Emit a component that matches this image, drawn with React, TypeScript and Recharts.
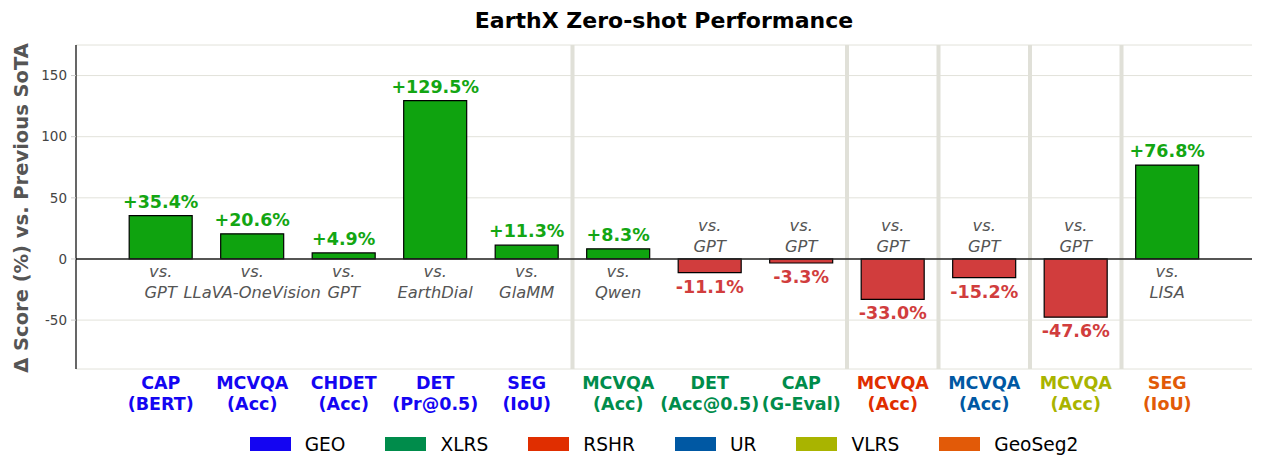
import { BarChart, Bar, XAxis, YAxis, CartesianGrid, ReferenceLine, LabelList, Legend, Cell } from "recharts";

// task / metric pairs shown under each bar
const tasks = ["CAP", "MCVQA", "CHDET", "DET", "SEG", "MCVQA", "DET", "CAP", "MCVQA", "MCVQA", "MCVQA", "SEG"];
const metrics = ["(BERT)", "(Acc)", "(Acc)", "(Pr@0.5)", "(IoU)", "(Acc)", "(Acc@0.5)", "(G-Eval)", "(Acc)", "(Acc)", "(Acc)", "(IoU)"];
const benchmarks = ["GEO", "GEO", "GEO", "GEO", "GEO", "XLRS", "XLRS", "XLRS", "RSHR", "UR", "VLRS", "GeoSeg2"];
// relative change against the previous best model (%)
const deltas = [35.4, 20.6, 4.9, 129.5, 11.3, 8.3, -11.1, -3.3, -33.0, -15.2, -47.6, 76.8];
const baselines = ["GPT", "LLaVA-OneVision", "GPT", "EarthDial", "GlaMM", "Qwen", "GPT", "GPT", "GPT", "GPT", "GPT", "LISA"];
const yTicks = [-50, 0, 50, 100, 150];

const groups = ["GEO", "XLRS", "RSHR", "UR", "VLRS", "GeoSeg2"];
const groupColors = ["#1405f2", "#008c4b", "#e02e00", "#0058a3", "#a9b400", "#e25a08"];

const GREEN = "#0fa30f";
const RED = "#d13d3d";
const FONT = "'DejaVu Sans', sans-serif";

const ids = tasks.map((t, i) => `${t}-${i}`);
const rows = ids.map((id, i) => ({ id, delta: deltas[i], baseline: baselines[i] }));

// a separator goes after every bar whose benchmark differs from the next one
const separators = ids.filter((_, i) => i < ids.length - 1 && benchmarks[i] !== benchmarks[i + 1]);

const colorOf = (bench: string) => groupColors[groups.indexOf(bench)];

function TaskTick(props: any) {
  const { x, y, payload } = props;
  const i = ids.indexOf(payload.value);
  const color = colorOf(benchmarks[i]);
  return (
    <g>
      <text x={x} y={y + 14} textAnchor="middle" dominantBaseline="central" fontWeight="bold" fontSize={17.5} fill={color}>
        {tasks[i]}
      </text>
      <text x={x} y={y + 35} textAnchor="middle" dominantBaseline="central" fontWeight="bold" fontSize={17.5} fill={color}>
        {metrics[i]}
      </text>
    </g>
  );
}

function ValueLabel(props: any) {
  const { x, y, width, height, value } = props;
  const top = Math.min(y, y + height);
  const bottom = Math.max(y, y + height);
  const cx = x + width / 2;
  const pos = value >= 0;
  return (
    <text
      x={cx}
      y={pos ? top - 14 : bottom + 14}
      textAnchor="middle"
      dominantBaseline="central"
      fontWeight="bold"
      fontSize={17.5}
      fill={pos ? "#13a613" : RED}
    >
      {`${pos ? "+" : ""}${value.toFixed(1)}%`}
    </text>
  );
}

function VersusLabel(props: any) {
  const { x, y, width, height, index } = props;
  const pos = deltas[index] >= 0;
  // the zero line is the bar's base
  const zero = pos ? Math.max(y, y + height) : Math.min(y, y + height);
  const first = pos ? zero + 13 : zero - 33;
  const cx = x + width / 2;
  return (
    <g fontStyle="italic" fontSize={16.3} fill="#555">
      <text x={cx} y={first} textAnchor="middle" dominantBaseline="central">vs.</text>
      <text x={cx} y={first + 21} textAnchor="middle" dominantBaseline="central">{baselines[index]}</text>
    </g>
  );
}

function GroupLegend() {
  return (
    <div style={{ height: 43, display: "flex", justifyContent: "center", alignItems: "flex-start", paddingTop: 4, boxSizing: "border-box" }}>
      {groups.map((g, i) => (
        <div key={g} style={{ display: "flex", alignItems: "center", marginRight: i < groups.length - 1 ? 40 : 0, height: 22 }}>
          <span style={{ display: "inline-block", width: 41, height: 14, background: groupColors[i], marginRight: 14 }} />
          <span style={{ fontSize: 18.6, color: "#000", fontFamily: FONT }}>{g}</span>
        </div>
      ))}
    </div>
  );
}

export default function App() {
  return (
    <div style={{ position: "absolute", left: 0, top: 0, width: 1262, height: 472, background: "#fff", fontFamily: FONT }}>
      <BarChart width={1262} height={472} data={rows} margin={{ top: 45, right: 10, bottom: 0, left: 0 }} barCategoryGap="15.5%">
        <text x={664} y={20} textAnchor="middle" dominantBaseline="central" fontWeight="bold" fontSize={22} fill="#000">
          EarthX Zero-shot Performance
        </text>
        <text
          x={21}
          y={208}
          transform="rotate(-90 21 208)"
          textAnchor="middle"
          dominantBaseline="central"
          fontWeight="bold"
          fontSize={19.5}
          fill="#555"
        >
          Δ Score (%) vs. Previous SoTA
        </text>
        <CartesianGrid vertical={false} stroke="#e2e2da" strokeWidth={1} />
        <XAxis
          dataKey="id"
          interval={0}
          axisLine={false}
          tickLine={false}
          tickSize={0}
          tickMargin={0}
          height={60}
          padding={{ left: 39, right: 39 }}
          tick={<TaskTick />}
        />
        <YAxis
          width={76}
          domain={[-90, 175]}
          ticks={yTicks}
          allowDataOverflow
          axisLine={{ stroke: "#000", strokeWidth: 1.2 }}
          tickLine={{ stroke: "#ccc" }}
          tickSize={5}
          tickMargin={4}
          tick={{ fill: "#444", fontSize: 13.5 }}
        />
        {separators.map((id) => (
          <ReferenceLine key={id} x={id} position="end" stroke="#e0e0d8" strokeWidth={4} />
        ))}
        <Bar dataKey="delta" stroke="#000" strokeWidth={1.2} isAnimationActive={false}>
          {rows.map((r) => (
            <Cell key={r.id} fill={r.delta >= 0 ? GREEN : RED} />
          ))}
          <LabelList dataKey="delta" content={<ValueLabel />} />
          <LabelList dataKey="baseline" content={<VersusLabel />} />
        </Bar>
        <ReferenceLine y={0} stroke="#222" strokeWidth={1.5} />
        <Legend
          verticalAlign="bottom"
          wrapperStyle={{ left: 76, width: 1176 }}
          content={() => <GroupLegend />}
        />
      </BarChart>
    </div>
  );
}
